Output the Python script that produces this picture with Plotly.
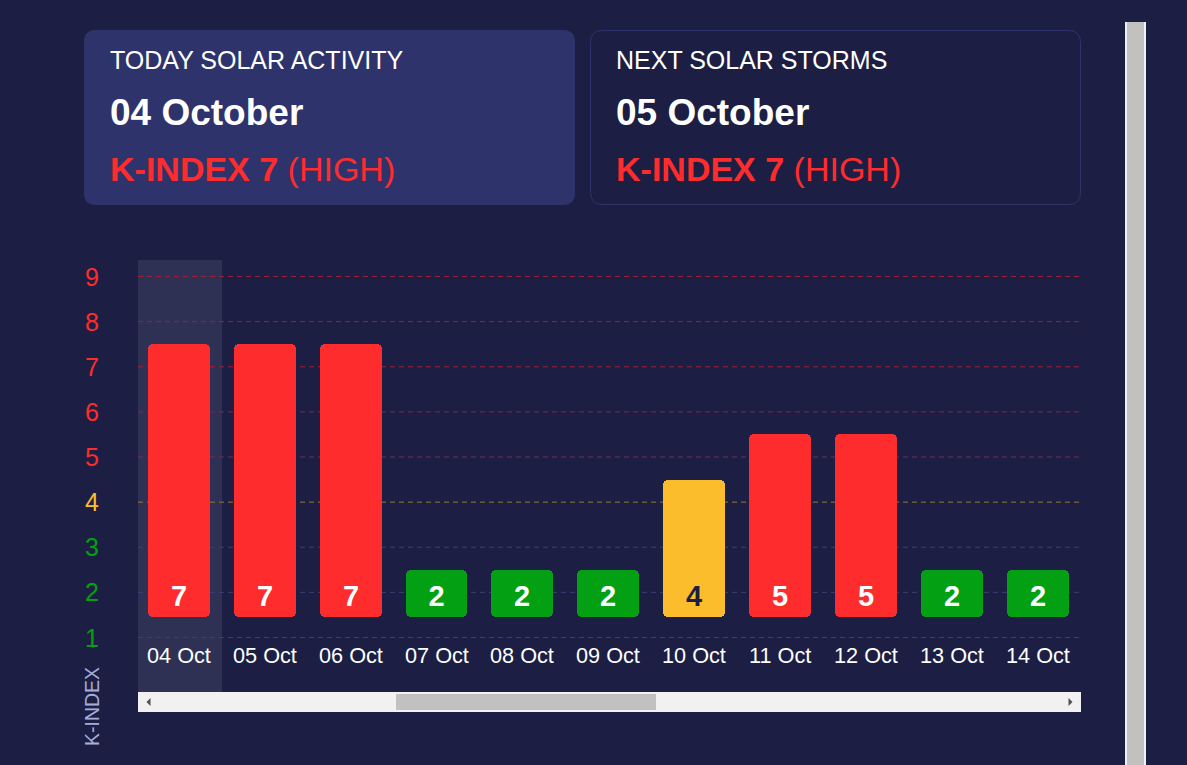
import plotly.graph_objects as go

# ---------------- data ----------------
dates = ["04 Oct", "05 Oct", "06 Oct", "07 Oct", "08 Oct", "09 Oct",
         "10 Oct", "11 Oct", "12 Oct", "13 Oct", "14 Oct"]
kindex = [7, 7, 7, 2, 2, 2, 4, 5, 5, 2, 2]
y_ticks = [1, 2, 3, 4, 5, 6, 7, 8, 9]

card1_title = "TODAY SOLAR ACTIVITY"
card1_date = "04 October"
card1_k = 7
card1_level = "HIGH"
card2_title = "NEXT SOLAR STORMS"
card2_date = "05 October"
card2_k = 7
card2_level = "HIGH"
axis_title = "K-INDEX"

# ---------------- styling ----------------
BG = "#1c1f43"
CARD = "#2f336b"
RED = "#fe2c2c"
YEL = "#fbbd2c"
GRN = "#02a012"
FONT = "Liberation Sans, Arial, sans-serif"

W, H = 1187, 765
L, R, T, B = 138, 1081, 260, 692
PPU = 45.125        # pixels per K-index unit
Y9 = 276.5          # pixel row of the "9" grid line
Y_TOP = 9 + (Y9 - T) / PPU
Y_BOT = 9 - (B - Y9) / PPU
BAR_BASE = 1.45


def px(x):
    return (x - L) / (R - L)


def py(y):
    return (B - y) / (B - T)


def level_color(v):
    if v >= 5:
        return RED
    if v == 4:
        return YEL
    return GRN


def grid_color(v):
    if v >= 7:
        return "#9e2036"
    if v >= 5:
        return "#80294f"
    if v == 4:
        return "#9c7630"
    return "#3b4074"


def rrect(x0, y0, x1, y1, r):
    pts = [
        ("M", [(x0 + r, y0)]),
        ("L", [(x1 - r, y0)]),
        ("Q", [(x1, y0), (x1, y0 + r)]),
        ("L", [(x1, y1 - r)]),
        ("Q", [(x1, y1), (x1 - r, y1)]),
        ("L", [(x0 + r, y1)]),
        ("Q", [(x0, y1), (x0, y1 - r)]),
        ("L", [(x0, y0 + r)]),
        ("Q", [(x0, y0), (x0 + r, y0)]),
    ]
    s = ""
    for cmd, ps in pts:
        s += cmd + " " + " ".join(f"{px(a):.5f},{py(b):.5f}" for a, b in ps) + " "
    return s + "Z"


def poly(points):
    return "M " + " L ".join(f"{px(a):.5f},{py(b):.5f}" for a, b in points) + " Z"


xs = list(range(len(dates)))
bar_colors = [level_color(v) for v in kindex]
text_colors = ["#1c1f43" if v == 4 else "white" for v in kindex]

fig = go.Figure()
fig.add_trace(go.Bar(
    x=xs,
    y=[v + 0.5 - BAR_BASE for v in kindex],
    base=[BAR_BASE] * len(kindex),
    width=0.72,
    marker=dict(color=bar_colors, cornerradius=5, line=dict(width=0)),
    text=[str(v) for v in kindex],
    textposition="inside",
    insidetextanchor="start",
    textangle=0,
    constraintext="none",
    insidetextfont=dict(family=FONT, size=29, color=text_colors, weight="bold"),
    hoverinfo="skip",
    showlegend=False,
))

shapes = []
# highlight column for today
shapes.append(dict(type="rect", xref="paper", yref="paper", x0=px(138), x1=px(222),
                   y0=0, y1=1, fillcolor="#2e3154", line=dict(width=0), layer="below"))
# dashed grid lines
for v in y_ticks:
    shapes.append(dict(type="line", xref="paper", yref="y", x0=0, x1=1, y0=v, y1=v,
                       line=dict(color=grid_color(v), width=1, dash="5px,4px"), layer="below"))
# cards
shapes.append(dict(type="path", xref="paper", yref="paper", path=rrect(84, 30, 575, 205, 12),
                   fillcolor=CARD, line=dict(width=0), layer="below"))
shapes.append(dict(type="path", xref="paper", yref="paper", path=rrect(590.5, 30.5, 1080.5, 204.5, 12),
                   fillcolor=BG, line=dict(color="#2f336b", width=1), layer="below"))
# horizontal scrollbar
shapes.append(dict(type="rect", xref="paper", yref="paper", x0=px(138), x1=px(1081),
                   y0=py(712), y1=py(692), fillcolor="#f1f1f1", line=dict(width=0), layer="above"))
shapes.append(dict(type="rect", xref="paper", yref="paper", x0=px(396), x1=px(656),
                   y0=py(710), y1=py(694), fillcolor="#c1c1c1", line=dict(width=0), layer="above"))
shapes.append(dict(type="path", xref="paper", yref="paper",
                   path=poly([(150.5, 698), (146.5, 702), (150.5, 706)]),
                   fillcolor="#505050", line=dict(width=0), layer="above"))
shapes.append(dict(type="path", xref="paper", yref="paper",
                   path=poly([(1068.5, 698), (1072.5, 702), (1068.5, 706)]),
                   fillcolor="#505050", line=dict(width=0), layer="above"))
# vertical scrollbar
shapes.append(dict(type="rect", xref="paper", yref="paper", x0=px(1125), x1=px(1146),
                   y0=py(765), y1=py(22), fillcolor="#f1f1f1", line=dict(width=0), layer="above"))
shapes.append(dict(type="rect", xref="paper", yref="paper", x0=px(1127), x1=px(1144),
                   y0=py(765), y1=py(22), fillcolor="#c1c1c1", line=dict(width=0), layer="above"))

ann = []
# y labels
for v in y_ticks:
    ann.append(dict(xref="paper", yref="y", x=px(92), y=v, text=str(v), showarrow=False,
                    xanchor="center", yanchor="middle",
                    font=dict(family=FONT, size=25, color=level_color(v))))
# x labels
for i, d in enumerate(dates):
    ann.append(dict(xref="x", yref="paper", x=i, y=py(655), text=d, showarrow=False,
                    xanchor="center", yanchor="middle",
                    font=dict(family=FONT, size=21.7, color="white")))
# axis title
ann.append(dict(xref="paper", yref="paper", x=px(92), y=py(707), text=axis_title, textangle=-90,
                showarrow=False, xanchor="center", yanchor="middle",
                font=dict(family=FONT, size=19.5, color="#a6addb")))
# cards text
for x0, title, date, k, lvl in [(108, card1_title, card1_date, card1_k, card1_level),
                                (614, card2_title, card2_date, card2_k, card2_level)]:
    ann.append(dict(xref="paper", yref="paper", x=px(x0), y=py(60), text=title, showarrow=False,
                    xanchor="left", yanchor="middle",
                    font=dict(family=FONT, size=25, color="white")))
    ann.append(dict(xref="paper", yref="paper", x=px(x0), y=py(112), text=f"<b>{date}</b>",
                    showarrow=False, xanchor="left", yanchor="middle",
                    font=dict(family=FONT, size=37, color="white")))
    ann.append(dict(xref="paper", yref="paper", x=px(x0), y=py(169),
                    text=f"<b>K-INDEX {k}</b> ({lvl})", showarrow=False,
                    xanchor="left", yanchor="middle",
                    font=dict(family=FONT, size=34, color=RED)))

fig.update_layout(
    width=W, height=H,
    margin=dict(l=L, r=W - R, t=T, b=H - B, pad=0),
    paper_bgcolor=BG, plot_bgcolor="rgba(0,0,0,0)",
    xaxis=dict(range=[-0.475, 10.503], showgrid=False, zeroline=False,
               showticklabels=False, ticks="", fixedrange=True),
    yaxis=dict(range=[Y_BOT, Y_TOP], showgrid=False, zeroline=False,
               showticklabels=False, ticks="", fixedrange=True),
    shapes=shapes,
    annotations=ann,
    bargap=0,
    hovermode=False,
    font=dict(family=FONT),
)

fig.write_html(
    "out.html",
    config={"displayModeBar": False},
    post_script=("document.body.style.margin='0';"
                 "document.body.style.background='" + BG + "';"
                 "document.body.style.overflow='hidden';"),
)
